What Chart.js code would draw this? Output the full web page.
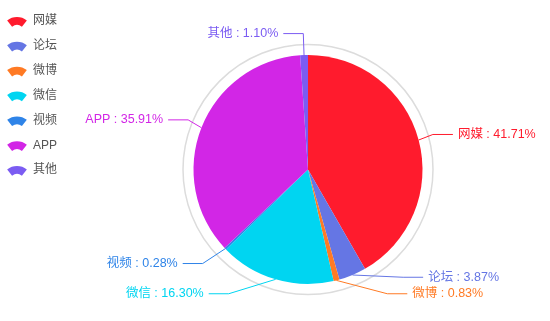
<!DOCTYPE html>
<html>
<head>
<meta charset="utf-8">
<script src="https://cdn.jsdelivr.net/npm/chart.js@4.4.0/dist/chart.umd.min.js"></script>
<style>
  html, body { margin: 0; padding: 0; background: #fff; }
  canvas { display: block; }
</style>
</head>
<body>
<canvas id="c" width="550" height="321"></canvas>
<script>
// Share of mentions by channel (percent)
const categories = ['网媒', '论坛', '微博', '微信', '视频', 'APP', '其他'];
const shares = [41.71, 3.87, 0.83, 16.30, 0.28, 35.91, 1.10];
const palette = ['#ff1b2d', '#6576e4', '#ff7a24', '#00d5f1', '#2f84e8', '#d226e6', '#7b5cf2'];

const FONT = "'Liberation Sans', 'Noto Sans CJK SC', sans-serif";

// Thin grey halo around the pie
const haloRing = {
  id: 'haloRing',
  beforeDatasetsDraw(chart) {
    const arc = chart.getDatasetMeta(0).data[0];
    if (!arc) return;
    const { x, y, outerRadius } = arc.getProps(['x', 'y', 'outerRadius'], true);
    const ctx = chart.ctx;
    ctx.save();
    ctx.beginPath();
    ctx.arc(x, y, outerRadius + 10.5, 0, Math.PI * 2);
    ctx.strokeStyle = '#dcdcdc';
    ctx.lineWidth = 1.5;
    ctx.stroke();
    ctx.restore();
  }
};

// Outside labels with two-segment leader lines, spread apart vertically
const outsideLabels = {
  id: 'outsideLabels',
  afterDatasetsDraw(chart) {
    const meta = chart.getDatasetMeta(0);
    const ctx = chart.ctx;
    const L1 = 21.5, L2 = 20, GAP = 5, H = 16.5, VIEW_BOTTOM = 302;
    let cx = 0, cy = 0, r = 0;
    const items = meta.data.map((el, i) => {
      const p = el.getProps(['x', 'y', 'startAngle', 'endAngle', 'outerRadius'], true);
      cx = p.x; cy = p.y; r = p.outerRadius;
      const mid = (p.startAngle + p.endAngle) / 2;
      const c = Math.cos(mid), s = Math.sin(mid);
      const side = c < 0 ? -1 : 1;
      const x2 = p.x + (r + L1) * c;
      const y2 = p.y + (r + L1) * s;
      return {
        i, side,
        x1: p.x + r * c, y1: p.y + r * s,
        y: y2, top: y2 - H / 2,
        textX: x2 + side * (L2 + GAP)
      };
    });
    const R = r + L1 + L2;

    function layoutSide(list, side) {
      list.sort((a, b) => a.top - b.top);
      const n = list.length;
      // push overlapping labels down, then keep them inside the bottom edge
      for (let k = 1; k < n; k++) {
        list[k].top = Math.max(list[k].top, list[k - 1].top + H);
      }
      if (n) list[n - 1].top = Math.min(list[n - 1].top, VIEW_BOTTOM - H);
      for (let k = n - 2; k >= 0; k--) {
        list[k].top = Math.min(list[k].top, list[k + 1].top - H);
      }

      const up = list.filter(it => it.top < cy);
      const down = list.filter(it => it.top >= cy);
      function changeX(group, isDown) {
        let last = isDown ? Infinity : 0;
        group.forEach(it => {
          const dy = Math.abs(it.top - cy);
          let dx = dy < r + L1 ? Math.sqrt(R * R - dy * dy) : Math.abs(it.textX - cx);
          if (isDown && dx >= last) dx = last - 10;
          if (!isDown && dx <= last) dx = last + 10;
          it.textX = cx + dx * side;
          last = dx;
        });
      }
      changeX(up, false);
      changeX(down, true);
      list.forEach(it => { it.y = it.top + H / 2; });
    }
    layoutSide(items.filter(it => it.side > 0), 1);
    layoutSide(items.filter(it => it.side < 0), -1);

    ctx.save();
    ctx.font = '12.5px ' + FONT;
    ctx.textBaseline = 'middle';
    items.forEach(it => {
      const color = palette[it.i];
      const endX = it.textX - it.side * GAP;
      const elbowX = endX - it.side * L2;
      ctx.beginPath();
      ctx.moveTo(it.x1, it.y1);
      ctx.lineTo(elbowX, it.y);
      ctx.lineTo(endX, it.y);
      ctx.strokeStyle = color;
      ctx.lineWidth = 1;
      ctx.stroke();
      ctx.fillStyle = color;
      ctx.textAlign = it.side > 0 ? 'left' : 'right';
      ctx.fillText(categories[it.i] + ' : ' + shares[it.i].toFixed(2) + '%', it.textX, it.y);
    });
    ctx.restore();
  }
};

// Vertical legend with fan-shaped swatches
const fanLegend = {
  id: 'fanLegend',
  afterDraw(chart) {
    const ctx = chart.ctx;
    ctx.save();
    ctx.font = '12px ' + FONT;
    ctx.textBaseline = 'middle';
    ctx.textAlign = 'left';
    categories.forEach((name, i) => {
      const yc = 21 + i * 24.85;
      const xc = 17;
      const oy = yc + 12;
      const a = 38 * Math.PI / 180;
      ctx.beginPath();
      ctx.arc(xc, oy, 16, -Math.PI / 2 - a, -Math.PI / 2 + a);
      ctx.arc(xc, oy, 8, -Math.PI / 2 + a, -Math.PI / 2 - a, true);
      ctx.closePath();
      ctx.fillStyle = palette[i];
      ctx.fill();
      ctx.fillStyle = '#555';
      ctx.fillText(name, 33, yc);
    });
    ctx.restore();
  }
};

new Chart(document.getElementById('c'), {
  type: 'pie',
  data: {
    labels: categories,
    datasets: [{
      data: shares,
      backgroundColor: palette,
      borderWidth: 0,
      hoverOffset: 0
    }]
  },
  options: {
    responsive: false,
    devicePixelRatio: 1,
    animation: false,
    layout: { padding: { left: 193.5, right: 127.5, top: 55, bottom: 37 } },
    plugins: {
      legend: { display: false },
      tooltip: { enabled: false }
    }
  },
  plugins: [haloRing, outsideLabels, fanLegend]
});
</script>
</body>
</html>
